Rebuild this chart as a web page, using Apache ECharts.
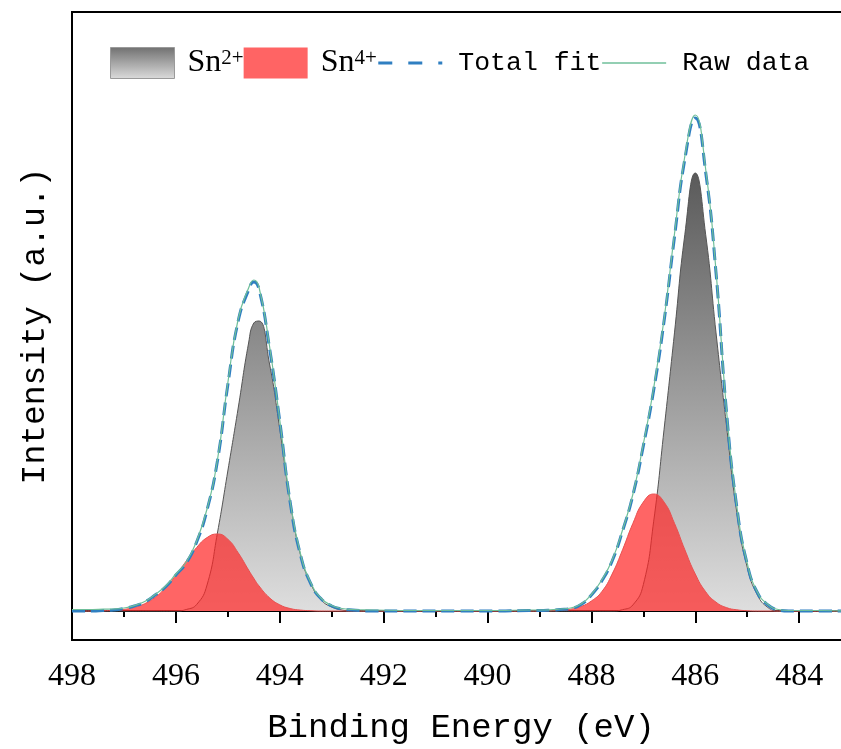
<!DOCTYPE html>
<html>
<head>
<meta charset="utf-8">
<script src="https://cdn.jsdelivr.net/npm/echarts@6/dist/echarts.min.js"></script>
<style>
  html, body { margin: 0; padding: 0; background: #fff; }
  #chart-container { width: 841px; height: 749px; }
</style>
</head>
<body>
<div id="chart-container"></div>
<script>
// binding energy (eV)
var energy = [
  498.0, 497.8, 497.6, 497.4, 497.2, 497.0, 496.8, 496.6, 496.4, 496.2,
  496.0, 495.8, 495.6, 495.4, 495.2, 495.0, 494.8, 494.6, 494.5, 494.4, 494.2,
  494.0, 493.8, 493.6, 493.4, 493.2, 493.0, 492.8, 492.6, 492.2, 491.4,
  490.6, 489.8, 489.2, 489.0, 488.8, 488.6, 488.4, 488.2, 488.0, 487.8,
  487.6, 487.4, 487.2, 487.0, 486.8, 486.6, 486.4, 486.2, 486.0, 485.8,
  485.6, 485.4, 485.2, 485.0, 484.8, 484.6, 484.4, 484.2, 484.0, 483.6,
  483.0, 482.4, 482.0
];
var sn2 = [
  0, 0, 0, 0, 0, 0, 0, 0, 0, 0,
  0, 1.5, 6.5, 26, 78, 140, 203, 268, 288, 290, 248,
  182, 110, 56, 27, 11, 4, 1, 0, 0, 0,
  0, 0, 0, 0, 0, 0, 0, 0, 0, 0,
  0, 1.3, 6.1, 26.3, 89.8, 181.8, 278.1, 376.7, 438, 376.7,
  278.1, 186.2, 98.6, 43.8, 15.8, 3.5, 0, 0, 0, 0,
  0, 0, 0
];
var sn4 = [
  0, 0, 0, 0.2, 0.6, 1.6, 3.6, 7.3, 13.7, 23.2,
  35.7, 50, 63.5, 73.4, 77, 71.8, 58.2, 41, 32.7, 25.1, 13.4,
  6.2, 2.5, 0.9, 0.3, 0, 0, 0, 0, 0, 0,
  0, 0, 0, 0, 0.2, 0.6, 1.8, 4.5, 10, 19.3,
  37, 61.2, 87.7, 108.9, 117, 108.9, 87.7, 61.2, 37, 19.3,
  8.8, 3.4, 1.2, 0.3, 0, 0, 0, 0, 0, 0,
  0, 0, 0
];
var totalFit = [
  0, 0, 0, 0.5, 1, 2.5, 5, 9, 16, 24,
  36, 48, 69, 101, 150, 226, 290, 321, 329, 322, 264,
  190, 109, 56, 27, 12, 5, 2, 1, 0, 0,
  0, 0, 0.5, 0.5, 0.8, 1.5, 2.5, 6.5, 16, 30,
  50, 80, 116, 165, 221, 290, 374, 452, 493, 439,
  338, 200, 104, 47, 18, 6, 1, 0, 0, 0,
  0, 0, 0
];
var rawData = [
  1.5, 1.5, 1.5, 1.8, 2, 3, 5.5, 9.5, 16.5, 25,
  37, 49, 70, 102, 151, 228, 292, 323, 331, 324, 266,
  191, 110, 57, 28, 12.5, 5.5, 2.5, 1.5, 1, 0.5,
  0.5, 0.5, 1, 1, 1.2, 2, 3, 7, 16.5, 31,
  51, 81, 117, 167, 223, 292, 377, 455, 496, 442,
  340, 202, 105, 48, 18.5, 6.5, 1.5, 0.5, 0.5, 0.5,
  0, 0, 0
];

function pairs(ys) {
  return energy.map(function (e, i) { return [e, ys[i]]; });
}

var dom = document.getElementById('chart-container');
var myChart = echarts.init(dom, null, { renderer: 'canvas' });

var grayFill = new echarts.graphic.LinearGradient(0, 0, 0, 1, [
  { offset: 0, color: '#5a5a5a' },
  { offset: 1, color: '#dedede' }
]);
var grayIcon = new echarts.graphic.LinearGradient(0, 0, 0, 1, [
  { offset: 0, color: '#707070' },
  { offset: 1, color: '#dcdcdc' }
]);

var option = {
  animation: false,
  grid: {
    left: 72,
    right: -62,
    top: 12,
    bottom: 109,
    outerBoundsMode: 'none',
    show: true,
    borderColor: '#000',
    borderWidth: 2
  },
  legend: {
    left: 105,
    top: 42,
    itemWidth: 64,
    itemHeight: 31,
    itemGap: 0,
    data: [
      { name: 'Sn2+', icon: 'rect', itemStyle: { color: grayIcon, borderColor: '#9a9a9a', borderWidth: 1 } },
      { name: 'Sn4+', icon: 'rect', itemStyle: { color: '#ff6464' } },
      { name: 'Total fit', itemStyle: { opacity: 0 }, lineStyle: { color: '#2f7fc1', width: 3, type: [14, 16] } },
      { name: 'Raw data', itemStyle: { opacity: 0 }, lineStyle: { color: '#6fbf9a', width: 1.5 } }
    ],
    formatter: function (name) {
      if (name.indexOf('Sn') === 0) {
        return '{sn|Sn}{sup|' + name.slice(2) + '}';
      }
      return '{mono|' + name + '}';
    },
    textStyle: {
      color: '#000',
      rich: {
        sn: { fontFamily: 'Liberation Serif', fontSize: 32, lineHeight: 31, padding: [0, 0, 0, 8] },
        sup: { fontFamily: 'Liberation Serif', fontSize: 21, lineHeight: 20, verticalAlign: 'top' },
        mono: { fontFamily: 'Liberation Mono', fontSize: 26.5, lineHeight: 31, padding: [0, 0, 0, 11] }
      }
    }
  },
  xAxis: {
    type: 'value',
    min: 482,
    max: 498,
    interval: 2,
    inverse: true,
    name: 'Binding Energy (eV)',
    nameLocation: 'middle',
    nameGap: 71,
    nameTextStyle: {
      fontFamily: 'Liberation Mono',
      fontSize: 34,
      color: '#000',
      padding: [0, 53, 0, 0]
    },
    axisLine: { lineStyle: { color: '#000', width: 2 } },
    axisTick: { length: 12, lineStyle: { color: '#000', width: 2 } },
    minorTick: { show: true, splitNumber: 2, length: 6, lineStyle: { color: '#000', width: 2 } },
    axisLabel: {
      fontFamily: 'Liberation Serif',
      fontSize: 32,
      color: '#000',
      margin: 21,
      showMinLabel: true,
      showMaxLabel: true
    },
    splitLine: { show: false }
  },
  yAxis: {
    type: 'value',
    min: -29,
    max: 599,
    name: 'Intensity (a.u.)',
    nameLocation: 'middle',
    nameGap: 20,
    nameTextStyle: { fontFamily: 'Liberation Mono', fontSize: 33, color: '#000' },
    axisLine: { show: true, lineStyle: { color: '#000', width: 2 } },
    axisTick: { show: false },
    axisLabel: { show: false },
    splitLine: { show: false }
  },
  series: [
    {
      name: 'Sn2+',
      type: 'line',
      data: pairs(sn2),
      symbol: 'none',
      smooth: 0.5,
      itemStyle: { color: '#888' },
      lineStyle: { color: '#555', width: 1 },
      areaStyle: { color: grayFill, opacity: 1 },
      z: 1
    },
    {
      name: 'Sn4+',
      type: 'line',
      data: pairs(sn4),
      symbol: 'none',
      smooth: 0.5,
      itemStyle: { color: '#ff6464' },
      lineStyle: { color: '#e85050', width: 1 },
      areaStyle: { color: 'rgba(255,35,35,0.7)', opacity: 1 },
      z: 2
    },
    {
      name: 'Total fit',
      type: 'line',
      data: pairs(totalFit),
      symbol: 'none',
      smooth: 0.5,
      itemStyle: { color: '#2f7fc1' },
      lineStyle: { color: '#2f7fc1', width: 3, type: [13, 6] },
      z: 3
    },
    {
      name: 'Raw data',
      type: 'line',
      data: pairs(rawData),
      symbol: 'none',
      smooth: 0.5,
      itemStyle: { color: '#6fbf9a' },
      lineStyle: { color: '#6fbf9a', width: 1.2 },
      z: 4
    }
  ]
};

myChart.setOption(option);
window.addEventListener('resize', myChart.resize);
</script>
</body>
</html>
